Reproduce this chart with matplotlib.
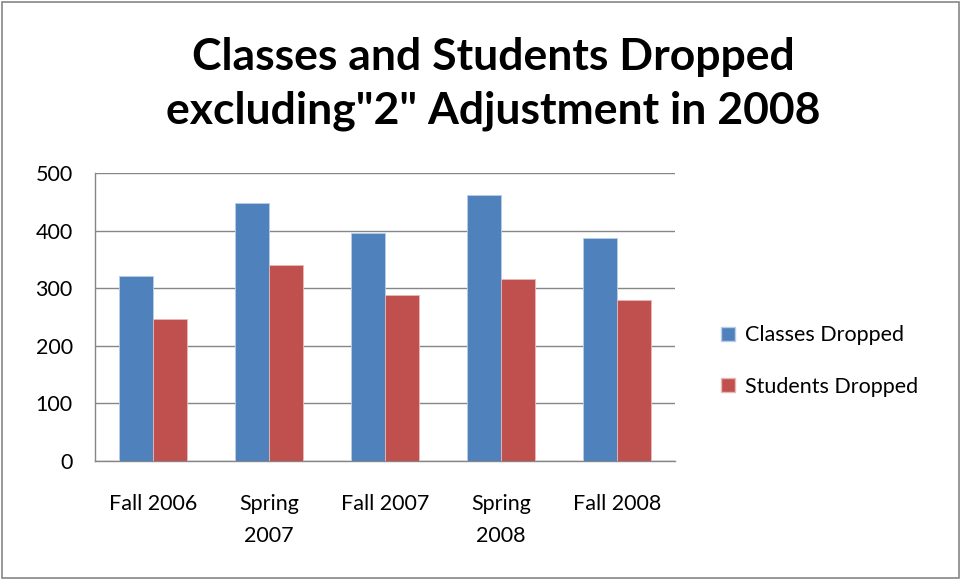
import numpy as np
import matplotlib.pyplot as plt
from matplotlib.patches import Rectangle, Patch

categories = ['Fall 2006', 'Spring\n2007', 'Fall 2007', 'Spring\n2008', 'Fall 2008']
classes_dropped = [322, 448, 396, 461, 387]
students_dropped = [247, 340, 289, 316, 280]
series_names = ['Classes Dropped', 'Students Dropped']
yticks = [0, 100, 200, 300, 400, 500]

blue = '#4f81bd'
red = '#c0504d'
grid_col = '#868686'

plt.rcParams['font.family'] = ['Lato', 'DejaVu Sans']

fig = plt.figure(figsize=(9.61, 5.8), dpi=100)
ax = fig.add_axes([95 / 961, 1 - 461 / 580, 580 / 961, 288 / 580])

x = np.arange(len(categories))
w = 0.29
ax.bar(x - w / 2, classes_dropped, w, color=blue, edgecolor='#b9cde5', linewidth=0.6, zorder=3)
ax.bar(x + w / 2, students_dropped, w, color=red, edgecolor='#e6b9b8', linewidth=0.6, zorder=3)

ax.set_xlim(-0.5, len(categories) - 0.5)
ax.set_ylim(0, 500)
ax.set_yticks(yticks)
ax.set_xticks(x)
ax.set_xticklabels(categories, fontsize=15.5, linespacing=1.75)
ax.tick_params(axis='both', length=0, labelsize=15.5, colors='#000000')
ax.tick_params(axis='y', pad=16)
ax.tick_params(axis='x', pad=24)
ax.yaxis.grid(True, color=grid_col, linewidth=1.0, zorder=0)
for side in ['top', 'right']:
    ax.spines[side].set_visible(False)
for side in ['left', 'bottom']:
    ax.spines[side].set_color(grid_col)
    ax.spines[side].set_linewidth(1.0)

fig.text(493 / 961, 1 - 57 / 580, 'Classes and Students Dropped', ha='center', va='center',
         fontsize=32, fontweight='bold')
fig.text(493 / 961, 1 - 111 / 580, 'excluding"2" Adjustment in 2008', ha='center', va='center',
         fontsize=32, fontweight='bold')

handles = [Patch(facecolor=blue, edgecolor='#b9cde5'), Patch(facecolor=red, edgecolor='#e6b9b8')]
fig.legend(handles, series_names, loc='center left', bbox_to_anchor=(702 / 961, 1 - 361 / 580),
           frameon=False, fontsize=15.5, handlelength=0.65, handleheight=0.65,
           handletextpad=0.45, labelspacing=1.45)

fig.patches.append(Rectangle((0.002, 0.003), 0.996, 0.994, transform=fig.transFigure,
                             fill=False, edgecolor='#868686', linewidth=1.2))

fig.savefig('out.png', dpi=100)
